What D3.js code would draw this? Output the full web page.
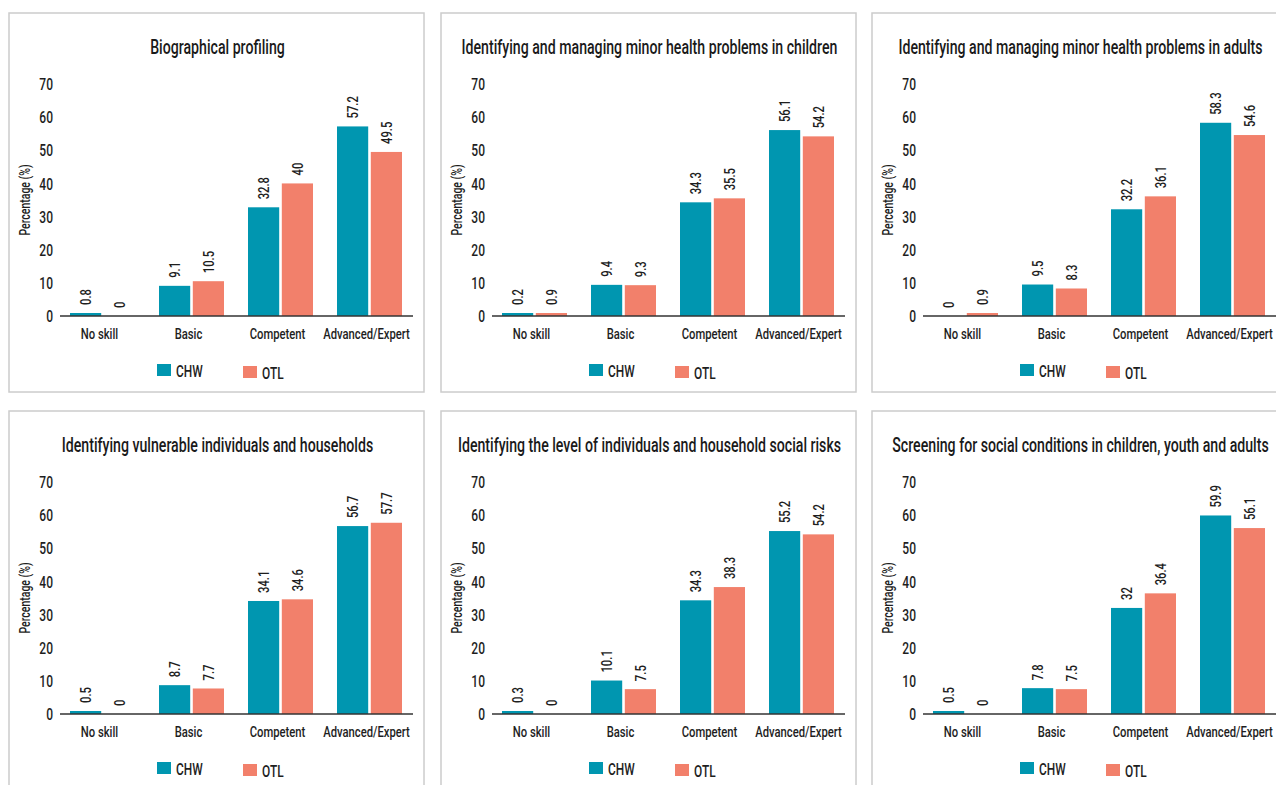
<!DOCTYPE html>
<html>
<head>
<meta charset="utf-8">
<script src="https://cdn.jsdelivr.net/npm/d3@7"></script>
<style>
  html, body { margin: 0; padding: 0; background: #fff; }
  svg { display: block; }
  text { font-family: Roboto, "Liberation Sans", sans-serif; font-weight: 500; fill: #1e1e1e; }
</style>
</head>
<body>
<svg id="chart" width="1276" height="785"></svg>
<script>
// ---- data ----
const categories = ["No skill", "Basic", "Competent", "Advanced/Expert"];
const seriesNames = ["CHW", "OTL"];
const yTicks = [0, 10, 20, 30, 40, 50, 60, 70];
const titles = [
  "Biographical profiling",
  "Identifying and managing minor health problems in children",
  "Identifying and managing minor health problems in adults",
  "Identifying vulnerable individuals and households",
  "Identifying the level of individuals and household social risks",
  "Screening for social conditions in children, youth and adults"
];
const chwValues = [
  [0.8, 9.1, 32.8, 57.2],
  [0.2, 9.4, 34.3, 56.1],
  [0, 9.5, 32.2, 58.3],
  [0.5, 8.7, 34.1, 56.7],
  [0.3, 10.1, 34.3, 55.2],
  [0.5, 7.8, 32, 59.9]
];
const otlValues = [
  [0, 10.5, 40, 49.5],
  [0.9, 9.3, 35.5, 54.2],
  [0.9, 8.3, 36.1, 54.6],
  [0, 7.7, 34.6, 57.7],
  [0, 7.5, 38.3, 54.2],
  [0, 7.5, 36.4, 56.1]
];

// ---- layout / style ----
const colors = { CHW: "#0096b0", OTL: "#f2806b" };
const panelLefts = [9, 441, 872];
const panelTops = [13, 411];
const PW = 415, PH = 379;

const svg = d3.select("#chart");

// condense text horizontally to mimic a condensed typeface
function condense(sel, f) {
  sel.each(function () {
    const w = this.getComputedTextLength();
    d3.select(this).attr("textLength", w * f).attr("lengthAdjust", "spacingAndGlyphs");
  });
}

const x = d3.scaleBand().domain(categories).range([49, 405]).paddingInner(0).paddingOuter(0);
const xs = d3.scaleBand().domain(seriesNames).range([-32.5, 32.5]).paddingInner(5 / 65);
const y = d3.scaleLinear().domain([0, 70]).range([303, 71]);

titles.forEach((title, i) => {
  const px = panelLefts[i % 3], py = panelTops[Math.floor(i / 3)];
  const g = svg.append("g").attr("transform", `translate(${px},${py})`);

  g.append("rect").attr("x", 0).attr("y", 0).attr("width", PW).attr("height", PH)
    .attr("fill", "#fff").attr("stroke", "#cccccc").attr("stroke-width", 1.5);

  g.append("text").attr("x", PW / 2 + 1).attr("y", 41).attr("text-anchor", "middle")
    .attr("font-size", 19.5).attr("font-weight", 700).style("fill", "#1a1a1a").text(title)
    .call(condense, 0.725);

  // y axis ticks (labels only)
  const yAxis = d3.axisLeft(y).tickValues(yTicks).tickSize(0).tickPadding(0);
  const ya = g.append("g").attr("transform", "translate(44,0)").call(yAxis);
  ya.select(".domain").remove();
  ya.selectAll("text").attr("font-size", 16).attr("font-family", null).attr("font-weight", 600).style("fill", "#1e1e1e")
    .attr("dy", "0.35em").call(condense, 0.75);

  g.append("text").attr("transform", `translate(21,${(y(0) + y(70)) / 2}) rotate(-90)`)
    .attr("text-anchor", "middle").attr("font-size", 14).text("Percentage (%)")
    .call(condense, 0.75);

  // bars
  const rows = categories.map((c, k) => ({ cat: c, vals: [
    { s: "CHW", v: chwValues[i][k] }, { s: "OTL", v: otlValues[i][k] } ] }));

  const grp = g.selectAll(".grp").data(rows).join("g")
    .attr("transform", d => `translate(${x(d.cat) + x.bandwidth() / 2},0)`);

  const topOf = d => d.v > 0 ? Math.min(y(d.v), y(0) - 3) : y(0);

  grp.selectAll("rect").data(d => d.vals).join("rect")
    .attr("x", d => xs(d.s)).attr("width", xs.bandwidth())
    .attr("y", topOf)
    .attr("height", d => y(0) - topOf(d))
    .attr("fill", d => colors[d.s]);

  grp.selectAll("text.val").data(d => d.vals).join("text").attr("class", "val")
    .attr("transform", d => `translate(${xs(d.s) + xs.bandwidth() / 2},${topOf(d) - 8}) rotate(-90)`)
    .attr("dy", "0.36em").attr("font-size", 15).text(d => d.v)
    .call(condense, 0.75);

  // x axis
  const xAxis = d3.axisBottom(x).tickSize(0).tickPadding(0);
  const xa = g.append("g").attr("transform", `translate(0,${y(0)})`).call(xAxis);
  xa.select(".domain").remove();
  xa.selectAll("text").attr("font-size", 15).attr("font-family", null).style("fill", "#1e1e1e")
    .attr("dy", null).attr("y", 23).attr("x", -3).call(condense, 0.75);
  g.append("line").attr("x1", 51).attr("x2", 404).attr("y1", y(0)).attr("y2", y(0))
    .attr("stroke", "#333").attr("stroke-width", 1.5);

  // legend
  const legX = [148, 234], legY = [351, 353];
  seriesNames.forEach((s, k) => {
    g.append("rect").attr("x", legX[k]).attr("y", legY[k]).attr("width", 14).attr("height", 12).attr("fill", colors[s]);
    g.append("text").attr("x", legX[k] + 19).attr("y", legY[k] + 13).attr("font-size", 17).text(s)
      .call(condense, 0.7);
  });
});
</script>
</body>
</html>
